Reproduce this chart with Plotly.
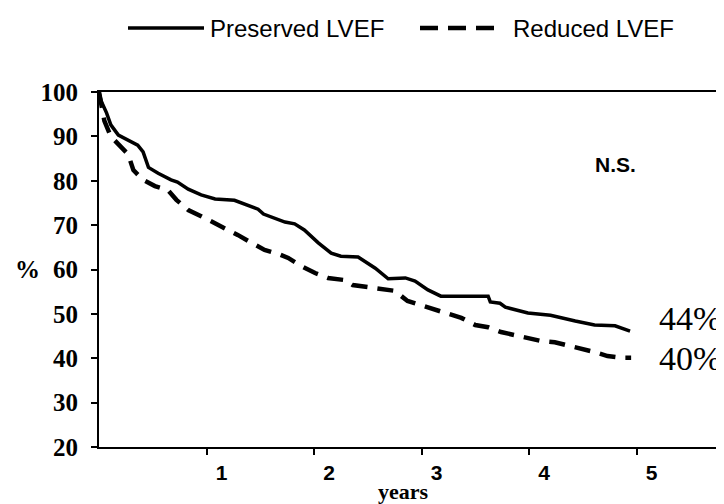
import plotly.graph_objects as go

# ---- data ----
preserved_t = [0, 0.02, 0.07, 0.11, 0.18, 0.27, 0.36, 0.41, 0.46, 0.55, 0.67, 0.73, 0.83, 0.95,
               1.08, 1.26, 1.32, 1.48, 1.53, 1.64, 1.73, 1.82, 1.91, 2.04, 2.16, 2.25, 2.41,
               2.57, 2.69, 2.85, 2.94, 3.06, 3.18, 3.62, 3.64, 3.73, 3.78, 3.99, 4.20, 4.43,
               4.61, 4.80, 4.94]
preserved_s = [100, 98, 95.3, 92.6, 90.3, 89.2, 88, 86.5, 83, 81.7, 80.2, 79.7, 78.1, 76.8,
               75.9, 75.6, 75.0, 73.6, 72.5, 71.6, 70.7, 70.3, 68.9, 66.0, 63.7, 63.0, 62.8,
               60.3, 57.9, 58.1, 57.4, 55.4, 54.0, 54.0, 52.7, 52.4, 51.5, 50.2, 49.7, 48.4,
               47.5, 47.3, 46.1]

reduced_t = [0, 0.03, 0.05, 0.11, 0.20, 0.27, 0.32, 0.41, 0.52, 0.64, 0.72, 0.83, 0.95, 1.08,
             1.20, 1.29, 1.42, 1.54, 1.67, 1.76, 1.88, 2.01, 2.13, 2.29, 2.36, 2.50, 2.62,
             2.75, 2.87, 2.99, 3.12, 3.25, 3.37, 3.50, 3.62, 3.74, 3.87, 3.99, 4.11, 4.24,
             4.36, 4.49, 4.61, 4.73, 4.86, 4.95]
reduced_s = [100, 96, 93.5, 90, 87.8, 86, 82.4, 80.2, 78.8, 77.9, 75.7, 73.4, 72.0, 70.5,
             68.9, 67.8, 66.0, 64.4, 63.5, 62.6, 60.8, 59.2, 58.1, 57.6, 56.5, 56.0, 55.8,
             55.2, 52.9, 52.0, 50.9, 50.0, 49.1, 47.5, 47.0, 45.9, 45.2, 44.8, 43.9, 43.6,
             42.9, 42.3, 41.4, 40.5, 40.1, 40.1]

series_names = ["Preserved LVEF", "Reduced LVEF"]
end_labels = ["44%", "40%"]
end_label_y = [49, 40]
x_ticks = [1, 2, 3, 4, 5]
y_ticks = [20, 30, 40, 50, 60, 70, 80, 90, 100]

SANS = "Liberation Sans, Arial, sans-serif"
SERIF = "Liberation Serif, Times New Roman, serif"

W, H = 724, 504
ML, MR, MT, MB = 91, 0, 84, 65
PX_PER_YEAR = 107.5
plot_w = W - ML - MR
plot_h = H - MT - MB


def px_x(px):
    return (px - ML) / plot_w


def px_y(py):
    return (H - MB - py) / plot_h


fig = go.Figure()
fig.add_trace(go.Scatter(x=preserved_t, y=preserved_s, mode="lines", name=series_names[0],
                         line=dict(color="black", width=3.5), showlegend=False))
fig.add_trace(go.Scatter(x=reduced_t, y=reduced_s, mode="lines", name=series_names[1],
                         line=dict(color="black", width=4.5, dash="16px,10px"), showlegend=False))

# manual legend (long line samples as in the reference)
leg_y = px_y(20)
fig.add_shape(type="line", xref="paper", yref="paper", x0=px_x(120), x1=px_x(196),
              y0=leg_y, y1=leg_y, line=dict(color="black", width=3.5))
fig.add_annotation(xref="paper", yref="paper", x=px_x(200), y=leg_y, text=series_names[0],
                   showarrow=False, xanchor="left", yanchor="middle",
                   font=dict(family=SANS, size=24, color="black"))
fig.add_shape(type="line", xref="paper", yref="paper", x0=px_x(412), x1=px_x(488),
              y0=leg_y, y1=leg_y, line=dict(color="black", width=4.5, dash="18px,10px"))
fig.add_annotation(xref="paper", yref="paper", x=px_x(503), y=leg_y, text=series_names[1],
                   showarrow=False, xanchor="left", yanchor="middle",
                   font=dict(family=SANS, size=24, color="black"))

# N.S.
fig.add_annotation(xref="paper", yref="paper", x=px_x(607), y=px_y(156), text="N.S.",
                   showarrow=False, xanchor="center", yanchor="middle",
                   font=dict(family=SANS, size=21, color="black", weight="bold"))

# end labels
for lab, yv in zip(end_labels, end_label_y):
    fig.add_annotation(xref="paper", yref="y", x=px_x(715), y=yv, text=lab,
                       showarrow=False, xanchor="right", yanchor="middle",
                       font=dict(family=SERIF, size=34, color="black"))

# axis titles
fig.add_annotation(xref="paper", yref="y", x=px_x(19), y=60, text="%", showarrow=False,
                   xanchor="center", yanchor="middle",
                   font=dict(family=SERIF, size=25, color="black", weight="bold"))
fig.add_annotation(xref="paper", yref="paper", x=px_x(395), y=px_y(483), text="years",
                   showarrow=False, xanchor="center", yanchor="middle",
                   font=dict(family=SERIF, size=22, color="black", weight="bold"))

fig.update_layout(
    width=W, height=H,
    margin=dict(l=ML, r=MR, t=MT, b=MB),
    plot_bgcolor="white", paper_bgcolor="white",
    showlegend=False,
)
fig.update_xaxes(range=[0, plot_w / PX_PER_YEAR], tickvals=x_ticks, ticks="outside",
                 ticklen=6, tickwidth=1.5, tickcolor="black",
                 showline=True, linecolor="black", linewidth=1.8, mirror=True,
                 showgrid=False, zeroline=False, ticklabelshift=15,
                 tickfont=dict(family=SANS, size=21, color="black", weight="bold"))
fig.update_yaxes(range=[20, 100], tickvals=y_ticks, ticks="outside",
                 ticklen=6, tickwidth=1.5, tickcolor="black",
                 showline=True, linecolor="black", linewidth=1.8,
                 showgrid=False, zeroline=False, ticklabelstandoff=8,
                 tickfont=dict(family=SERIF, size=25, color="black", weight="bold"))

fig.write_html("out.html")
